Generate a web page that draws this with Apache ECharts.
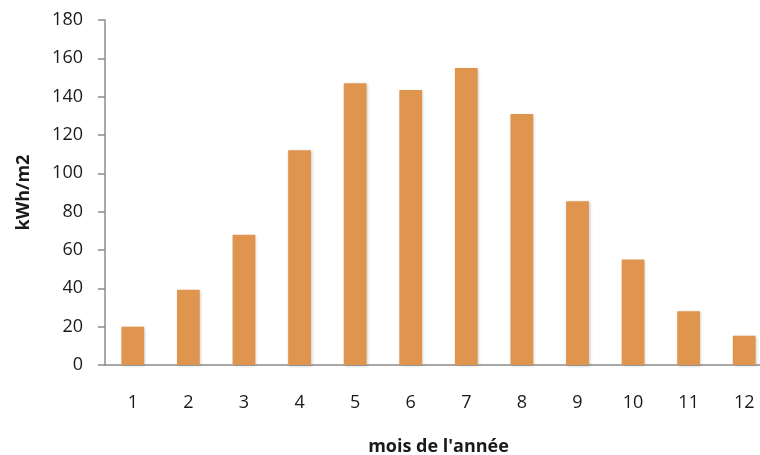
<!DOCTYPE html>
<html>
<head>
<meta charset="utf-8">
<script src="https://cdn.jsdelivr.net/npm/echarts@6/dist/echarts.min.js"></script>
<style>
  html, body { margin: 0; padding: 0; background: #fff; }
  #chart { width: 760px; height: 455px; }
</style>
</head>
<body>
<div id="chart"></div>
<script>
// Monthly solar irradiation (kWh/m2)
const months = ['1', '2', '3', '4', '5', '6', '7', '8', '9', '10', '11', '12'];
const irradiation = [20, 39.3, 68, 112, 147, 143.5, 155, 131, 85.5, 55, 28, 15.3];
const yTicks = { min: 0, max: 180, step: 20 };

const axisGray = '#8c8c8c';
const textColor = '#1a1a1a';
const fontFamily = 'Open Sans, Lato, sans-serif';

const chart = echarts.init(document.getElementById('chart'), null, { renderer: 'canvas' });
chart.setOption({
  animation: false,
  grid: { left: 105, top: 20, bottom: 90, right: -12, containLabel: false, outerBoundsMode: 'none' },
  xAxis: {
    type: 'category',
    data: months,
    name: 'mois de l\'année',
    nameLocation: 'middle',
    nameGap: 73,
    nameTextStyle: { color: textColor, fontSize: 18, fontWeight: 'bold', fontFamily },
    axisLine: { lineStyle: { color: axisGray, width: 1.5 } },
    axisTick: { length: 6, lineStyle: { color: axisGray, width: 1.5 } },
    axisLabel: { color: textColor, fontSize: 18, margin: 29, fontFamily }
  },
  yAxis: {
    type: 'value',
    min: yTicks.min,
    max: yTicks.max,
    interval: yTicks.step,
    name: 'kWh/m2',
    nameLocation: 'middle',
    nameGap: 72,
    nameTextStyle: { color: textColor, fontSize: 18, fontWeight: 'bold', fontFamily },
    axisLine: { show: true, lineStyle: { color: axisGray, width: 1.5 } },
    axisTick: { show: true, inside: false, length: 7, lineStyle: { color: axisGray, width: 1.5 } },
    axisLabel: { color: textColor, fontSize: 18, margin: 22, fontFamily },
    splitLine: { show: false }
  },
  series: [{
    type: 'bar',
    data: irradiation,
    barWidth: '41%',
    itemStyle: {
      color: '#e0954f',
      shadowColor: 'rgba(0,0,0,0.22)',
      shadowBlur: 3,
      shadowOffsetX: 1,
      shadowOffsetY: 1
    }
  }]
});
</script>
</body>
</html>
